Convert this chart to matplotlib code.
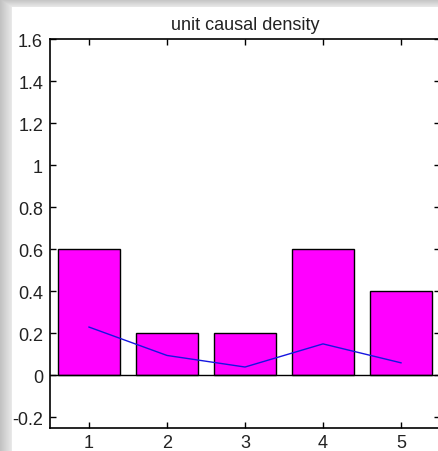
import numpy as np
import matplotlib
matplotlib.use("Agg")
import matplotlib.pyplot as plt

# values
units = [1, 2, 3, 4, 5]
density = [0.6, 0.2, 0.2, 0.6, 0.4]
trend = [0.23, 0.095, 0.04, 0.15, 0.06]
ytick_vals = [-0.2, 0, 0.2, 0.4, 0.6, 0.8, 1, 1.2, 1.4, 1.6]
ytick_labels = ["-0.2", "0", "0.2", "0.4", "0.6", "0.8", "1", "1.2", "1.4", "1.6"]

plt.rcParams['font.family'] = ['Liberation Sans', 'DejaVu Sans']

W, H = 438, 452
fig = plt.figure(figsize=(W / 100, H / 100), dpi=100)

# drop shadow round the left / top edge of the window
bg = fig.add_axes([0, 0, 1, 1])
xx, yy = np.meshgrid(np.arange(W), np.arange(H))
shade = np.ones((H, W))
left = xx < 12
top = yy < 8
shade[left] = 0.76 + 0.16 * xx[left] / 12
shade[top] = np.minimum(shade[top], 0.76 + 0.16 * yy[top] / 8)
bg.imshow(shade, cmap='gray', vmin=0, vmax=1, aspect='auto', interpolation='bilinear')
bg.axis('off')

ax = fig.add_axes([50 / W, 23 / H, 390 / W, 389 / H])
ax.bar(units, density, width=0.8, color='#ff00ff', edgecolor='black', linewidth=1, zorder=2)
ax.plot(units, trend, color='#1515e0', linewidth=1, zorder=3)
ax.axhline(0, color='black', linewidth=1, zorder=3)

ax.set_xlim(0.5, 5.5)
ax.set_ylim(-0.25, 1.6)
ax.set_xticks(units)
ax.set_yticks(ytick_vals)
ax.set_yticklabels(ytick_labels)
ax.tick_params(direction='in', top=True, right=True, length=4, width=1,
               labelsize=13, labelcolor='#222222')
ax.tick_params(axis='x', pad=4)
ax.tick_params(axis='y', pad=5)
for s in ax.spines.values():
    s.set_linewidth(1.2)
ax.set_title("unit causal density", fontsize=13, color='#222222', pad=7)

fig.savefig("out.png", dpi=100)
